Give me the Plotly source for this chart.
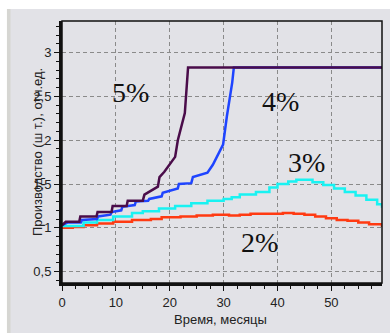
import plotly.graph_objects as go

# ---- data ----
t5 = [0, 0.7, 3.2, 3.4, 6.4, 6.6, 9.2, 9.4, 12, 12.2, 15, 15.3, 17.8, 18.1, 19, 21, 21.5, 22.8, 23.4, 59.4]
v5 = [1.03, 1.07, 1.07, 1.13, 1.13, 1.18, 1.18, 1.25, 1.25, 1.31, 1.31, 1.38, 1.47, 1.58, 1.64, 1.81, 2.0, 2.31, 2.83, 2.83]

t4 = [0, 1, 3.5, 3.7, 6.5, 6.7, 9, 9.2, 11, 11.2, 13.5, 13.7, 16, 16.2, 18.5, 18.7, 21.5, 21.7, 24, 24.3, 27, 28, 29.9, 30.6, 31.6, 31.9, 59.4]
v4 = [1.03, 1.06, 1.06, 1.09, 1.10, 1.13, 1.15, 1.18, 1.20, 1.24, 1.26, 1.30, 1.31, 1.33, 1.36, 1.40, 1.45, 1.50, 1.51, 1.58, 1.63, 1.72, 1.95, 2.27, 2.66, 2.83, 2.83]

t3 = [0, 4, 6.5, 9.5, 13, 15, 18, 21, 24, 27, 30, 31.5, 33, 36, 38.5, 40, 42, 43.5, 46.5, 48.5, 50.5, 52.5, 54.5, 56.5, 58.5, 59.4]
v3 = [1.02, 1.06, 1.09, 1.13, 1.17, 1.19, 1.22, 1.25, 1.28, 1.31, 1.33, 1.35, 1.38, 1.41, 1.46, 1.50, 1.53, 1.55, 1.52, 1.49, 1.45, 1.41, 1.37, 1.32, 1.27, 1.23]

t2 = [0, 2, 4, 6.5, 9.5, 13, 16.5, 18.5, 22, 25, 28, 31, 33, 35, 38, 41, 43, 45, 47, 49, 51, 53, 55, 57, 59.4]
v2 = [1.0, 1.01, 1.03, 1.05, 1.07, 1.09, 1.10, 1.12, 1.13, 1.14, 1.15, 1.14, 1.15, 1.16, 1.16, 1.17, 1.16, 1.15, 1.13, 1.11, 1.09, 1.08, 1.06, 1.04, 1.01]

series_labels = ["2%", "3%", "4%", "5%"]
label_x = [36.7, 45.4, 40.6, 12.7]
label_y = [0.83, 1.75, 2.44, 2.54]

y_tickvals = [0.5, 1, 1.5, 2, 2.5, 3]
y_ticktext = ["0,5", "1", "1,5", "2", "2,5", "3"]
x_tickvals = [0, 10, 20, 30, 40, 50]

x_title = "Время, месяцы"
y_title = "Производство (ш т.), отн.ед."

BG = "#e2e2e7"

fig = go.Figure()
for t, v, c, sh in [(t2, v2, "#ff3a12", "hv"), (t3, v3, "#19f2f2", "hv"),
                    (t4, v4, "#1e44ff", "linear"), (t5, v5, "#4a0c4a", "linear")]:
    fig.add_trace(go.Scatter(x=t, y=v, mode="lines", line=dict(color=c, width=2.5, shape=sh),
                             hoverinfo="skip", showlegend=False))

for s, x, y in zip(series_labels, label_x, label_y):
    fig.add_annotation(x=x, y=y, text=s, showarrow=False, xref="x", yref="y",
                       xanchor="center", yanchor="middle",
                       font=dict(family="Liberation Serif", size=28, color="#111"))

fig.add_annotation(x=-0.078, y=0.5, xref="paper", yref="paper", text=y_title, textangle=-90,
                   xanchor="center", yanchor="middle",
                   showarrow=False, font=dict(family="Liberation Sans", size=13, color="#222"))
fig.add_annotation(x=0.494, y=-0.141, xref="paper", yref="paper", text=x_title,
                   xanchor="center", yanchor="middle",
                   showarrow=False, font=dict(family="Liberation Sans", size=13, color="#222"))

# outer page strips
fig.add_shape(type="rect", xref="paper", yref="paper", x0=-0.25, x1=1.1, y0=1.0458, y1=1.2,
              fillcolor="white", line=dict(width=0), layer="below")
fig.add_shape(type="rect", xref="paper", yref="paper", x0=-0.25, x1=-0.172, y0=-0.3, y1=1.2,
              fillcolor="white", line=dict(width=0), layer="below")
fig.add_shape(type="rect", xref="paper", yref="paper", x0=-0.172, x1=-0.161, y0=-0.3, y1=1.0458,
              fillcolor="#d6d6d2", line=dict(width=0), layer="below")
# frame top/right
fig.add_shape(type="rect", xref="paper", yref="paper", x0=0, x1=1, y0=0, y1=1,
              line=dict(color="#111", width=1.5), fillcolor="rgba(0,0,0,0)", layer="above")

axis_common = dict(showgrid=True, gridcolor="#8a8a8a", gridwidth=1, griddash="4px,3px",
                   zeroline=False, showline=True, linecolor="#111", linewidth=3,
                   ticks="outside", ticklen=5, tickcolor="#111",
                   tickfont=dict(family="Liberation Sans", size=13, color="#222"))

fig.update_xaxes(range=[0, 59.4], tickvals=x_tickvals,
                 minor=dict(dtick=2.5, ticks="outside", ticklen=3, tickcolor="#111", showgrid=False),
                 **axis_common)
fig.update_yaxes(range=[0.371, 3.36], tickvals=y_tickvals, ticktext=y_ticktext,
                 minor=dict(dtick=0.1, ticks="outside", ticklen=3, tickcolor="#111", showgrid=False),
                 **axis_common)

fig.update_layout(width=390, height=333, margin=dict(l=62, r=8, t=21, b=50),
                  paper_bgcolor=BG, plot_bgcolor=BG)

fig.write_html("out.html")
